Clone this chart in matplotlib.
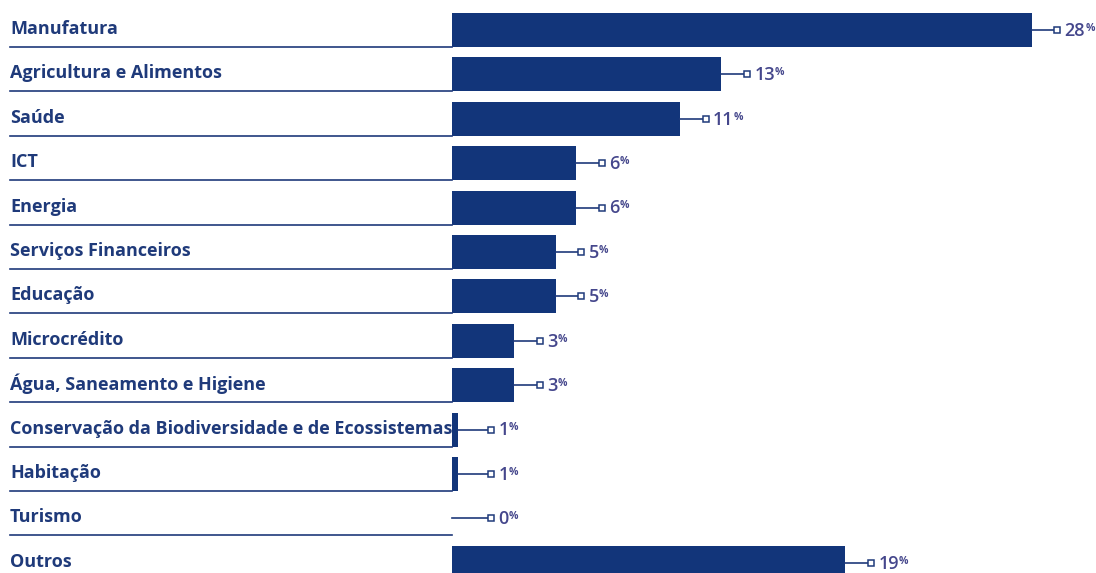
import matplotlib.pyplot as plt

# Data
sectors = ["Manufatura", "Agricultura e Alimentos", "Saúde", "ICT", "Energia",
           "Serviços Financeiros", "Educação", "Microcrédito",
           "Água, Saneamento e Higiene",
           "Conservação da Biodiversidade e de Ecossistemas", "Habitação",
           "Turismo", "Outros"]
values = [28, 13, 11, 6, 6, 5, 5, 3, 3, 0.3, 0.3, 0, 19]
labels = ["28", "13", "11", "6", "6", "5", "5", "3", "3", "1", "1", "0", "19"]

bar_color = "#12357a"
text_color = "#1f3a7a"
pct_color = "#45478c"

plt.rcParams['font.family'] = ['Open Sans', 'DejaVu Sans']

fig = plt.figure(figsize=(10.96, 5.73), dpi=100)
ax = fig.add_axes([0, 0, 1, 1])
px = 20.7   # pixels per percent
row = 44.4  # pixels per row
top = 30    # pixel centre of first row
ax.set_xlim(-452 / px, (1096 - 452) / px)
ax.set_ylim((573 - top) / row, -top / row)
ax.axis("off")

ys = list(range(len(sectors)))
ax.barh(ys, values, height=34 / row, color=bar_color, left=0)

for i, (name, v, lab) in enumerate(zip(sectors, values, labels)):
    # category label with underline
    ax.text(-442 / px, i - 1 / row, name, ha="left", va="center", fontsize=13,
            fontweight="bold", color=text_color)
    ax.plot([-442 / px, 0], [i + 17 / row, i + 17 / row], color=text_color, lw=1.2)
    # leader line + marker + value
    end = max(v + 1.25, 1.9)
    ax.plot([v, end], [i, i], color=text_color, lw=1.2)
    ax.plot(end, i, marker="s", ms=4, mfc="white", mec=text_color, mew=1.1)
    t = ax.text(end + 0.35, i + 0.02, lab, ha="left", va="center", fontsize=13,
                fontweight="semibold", color=pct_color)
    ax.annotate("%", xy=(1, 0.95), xycoords=t, ha="left", va="top",
                fontsize=7.5, fontweight="bold", color=pct_color)

fig.savefig("out.png", dpi=100)
